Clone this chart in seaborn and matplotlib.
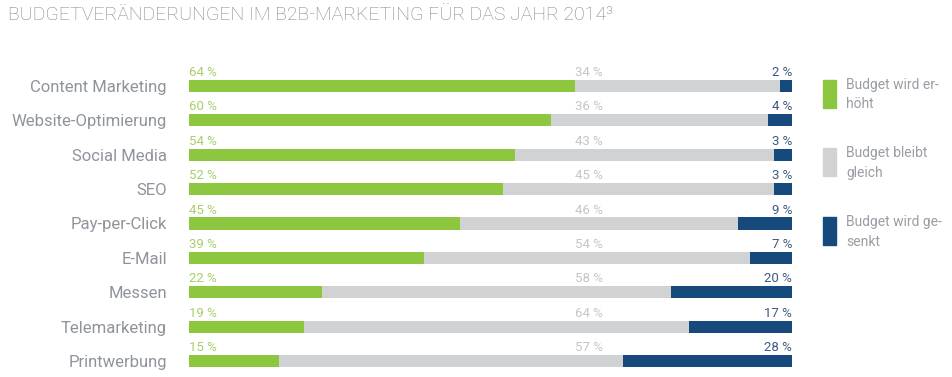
import matplotlib
matplotlib.use("Agg")
import matplotlib.pyplot as plt
import seaborn as sns
import pandas as pd
import numpy as np
from matplotlib.patches import Rectangle

categories = ["Content Marketing", "Website-Optimierung", "Social Media", "SEO",
              "Pay-per-Click", "E-Mail", "Messen", "Telemarketing", "Printwerbung"]
erhoeht = [64, 60, 54, 52, 45, 39, 22, 19, 15]
gleich = [34, 36, 43, 45, 46, 54, 58, 64, 57]
gesenkt = [2, 4, 3, 3, 9, 7, 20, 17, 28]
legend_labels = ["Budget wird er-\nhöht", "Budget bleibt\ngleich", "Budget wird ge-\nsenkt"]
title = "BUDGETVERÄNDERUNGEN IM B2B-MARKETING FÜR DAS JAHR 2014³"

GREEN = "#8dc63f"
GRAY = "#d1d2d4"
BLUE = "#174a7c"
TXT = "#8f949c"

sns.set_style("white")
plt.rcParams['font.family'] = ['Roboto', 'DejaVu Sans']

df = pd.DataFrame({"cat": categories, "g": erhoeht, "m": gleich, "b": gesenkt})
df["gm"] = df["g"] + df["m"]
df["all"] = df["gm"] + df["b"]

fig = plt.figure(figsize=(9.53, 3.77), dpi=100)
ax = fig.add_axes([189/953, 0.0151, (792-189)/953, 0.8024])

sns.barplot(data=df, y="cat", x="all", color=BLUE, orient="h", width=0.35,
            ax=ax, saturation=1, linewidth=0)
sns.barplot(data=df, y="cat", x="gm", color=GRAY, orient="h", width=0.35,
            ax=ax, saturation=1, linewidth=0)
sns.barplot(data=df, y="cat", x="g", color=GREEN, orient="h", width=0.35,
            ax=ax, saturation=1, linewidth=0)

ax.set_xlim(0, 100)
ax.set_ylim(8.3, -0.5)
ax.set_xlabel("")
ax.set_ylabel("")
ax.set_xticks([])
for s in ax.spines.values():
    s.set_visible(False)
ax.tick_params(axis="y", length=0, pad=16, labelsize=12, labelcolor=TXT)

for i in range(len(categories)):
    yt = i - 0.2
    ax.text(0, yt, f"{erhoeht[i]} %", color="#a6cf6b", fontsize=9.5,
            ha="left", va="bottom")
    ax.text(64, yt, f"{gleich[i]} %", color="#c4c5c8", fontsize=9.5,
            ha="left", va="bottom")
    ax.text(100, yt, f"{gesenkt[i]} %", color="#3d5a80", fontsize=9.5,
            ha="right", va="bottom")

fig.text(8/953, 1 - 15/377, title, color="#7f8590", fontsize=14,
         ha="left", va="center", fontweight="light")

# legend
cols = [GREEN, GRAY, BLUE]
tops = [80, 148, 217]
for c, t, lab in zip(cols, tops, legend_labels):
    fig.patches.append(Rectangle((823/953, 1 - (t+28)/377), 13/953, 28/377,
                                 transform=fig.transFigure, color=c, figure=fig))
    fig.text(846/953, 1 - (t-2)/377, lab, color="#999da4", fontsize=10,
             ha="left", va="top", linespacing=1.5)

fig.savefig("out.png", dpi=100)
